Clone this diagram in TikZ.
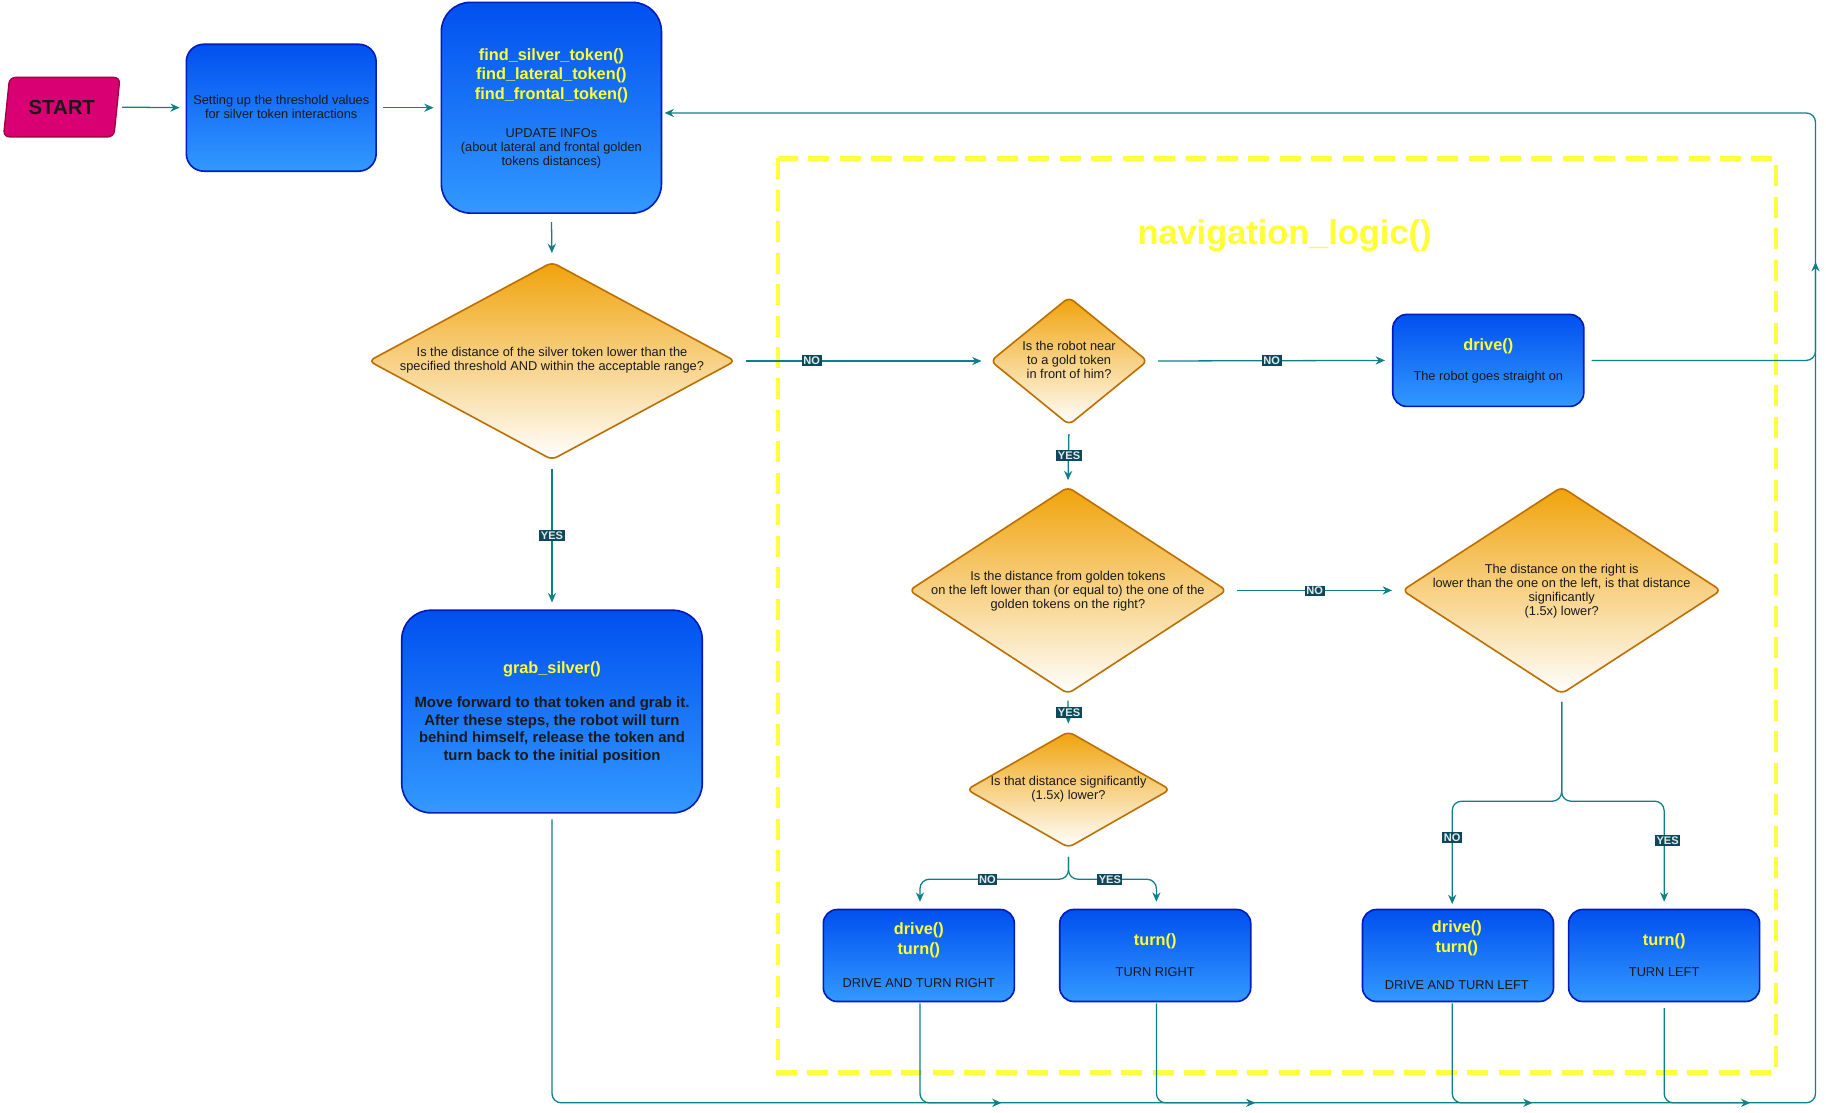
\documentclass[tikz,border=0pt]{standalone}
\usepackage{fontspec}
\setmainfont{Liberation Sans}
\usetikzlibrary{shapes.geometric,arrows.meta}
\definecolor{bluetop}{HTML}{0050EF}
\definecolor{bluebot}{HTML}{3399FF}
\definecolor{blueedge}{HTML}{001DBC}
\definecolor{orgtop}{HTML}{F0A30A}
\definecolor{orgedge}{HTML}{BD7000}
\definecolor{conncol}{HTML}{0E8088}
\definecolor{lblbg}{HTML}{10475A}
\definecolor{lbltxt}{HTML}{D8EEEE}
\definecolor{ylw}{HTML}{FFFF33}
\definecolor{dashy}{HTML}{FFFF40}
\definecolor{txtdark}{HTML}{1A1A1A}
\definecolor{startfill}{HTML}{D80073}
\definecolor{startedge}{HTML}{A50040}
\begin{document}
\begin{tikzpicture}[x=1pt,y=-1pt,
  bluebox/.style={draw=blueedge, line width=1.4pt, top color=bluetop, bottom color=bluebot, inner sep=0pt},
  dia/.style={diamond, draw=orgedge, line width=1.4pt, top color=orgtop, bottom color=white, inner sep=0pt, rounded corners=5pt},
  ttl/.style={font=\bfseries\fontsize{14}{17}\selectfont, text=ylw, align=center, inner sep=0pt},
  body/.style={font=\fontsize{11}{12}\selectfont, text=txtdark, align=center, inner sep=0pt},
  conn/.style={draw=conncol, line width=1.1pt, -{Stealth[length=8pt,width=7pt]}, rounded corners=8pt},
  lbl/.style={fill=lblbg, text=lbltxt, font=\bfseries\fontsize{9.5}{10}\selectfont, inner sep=1.3pt},
]
\useasboundingbox (0,0) rectangle (1568,955);

% dashed frame
\draw[dashy, line width=4pt, dash pattern=on 18pt off 9pt] (668,136) rectangle (1525,921);
\node[font=\bfseries\fontsize{29.5}{34}\selectfont, text=ylw, inner sep=0pt] (title) at (1103,202) {navigation\_logic()};

% nodes
\node[trapezium, trapezium left angle=75, trapezium right angle=105, trapezium stretches=true,
      minimum width=100pt, minimum height=51pt, fill=startfill, draw=startedge, line width=1.2pt,
      rounded corners=5pt, inner sep=0pt, font=\bfseries\fontsize{17.5}{20}\selectfont, text=txtdark] (start) at (53,92) {START};

\node[bluebox, rounded corners=15pt, minimum width=163pt, minimum height=109pt] (setup) at (241.5,92.5) {};
\node[body] (setupt) at (241.5,92) {Setting up the threshold values\\for silver token interactions};

\node[bluebox, rounded corners=25pt, minimum width=189pt, minimum height=181pt] (find) at (473.5,92.5) {};
\node[ttl] (findt) at (473.5,65) {find\_silver\_token()\\find\_lateral\_token()\\find\_frontal\_token()};
\node[body] (findb) at (473.5,127) {UPDATE INFOs\\(about lateral and frontal golden\\tokens distances)};

\node[dia, minimum width=315pt, minimum height=170pt] (d1) at (474,310) {};
\node[body] (d1t) at (474,309.5) {Is the distance of the silver token lower than the\\specified threshold AND within the acceptable range?};

\node[dia, minimum width=135pt, minimum height=110pt] (d2) at (918,310) {};
\node[body] (d2t) at (918,309) {Is the robot near\\to a gold token\\in front of him?};

\node[bluebox, rounded corners=12pt, minimum width=164pt, minimum height=79pt] (drv) at (1278,309.5) {};
\node[ttl] (drvt) at (1278,297) {drive()};
\node[body] (drvb) at (1278,324) {The robot goes straight on};

\node[bluebox, rounded corners=25pt, minimum width=258pt, minimum height=174pt] (grab) at (474,611) {};
\node[ttl] (grabt) at (474,575) {grab\_silver()};
\node[body, font=\bfseries\fontsize{12.8}{15.3}\selectfont] (grabb) at (474,627) {Move forward to that token and grab it.\\After these steps, the robot will turn\\behind himself, release the token and\\turn back to the initial position};

\node[dia, minimum width=273pt, minimum height=178pt] (d3) at (917,507) {};
\node[body] (d3t) at (917,508) {Is the distance from golden tokens\\on the left lower than (or equal to) the one of the\\golden tokens on the right?};

\node[dia, minimum width=274pt, minimum height=178pt] (d4) at (1341,507) {};
\node[body] (d4t) at (1341,508) {The distance on the right is\\lower than the one on the left, is that distance\\significantly\\(1.5x) lower?};

\node[dia, minimum width=175pt, minimum height=100pt] (d5) at (917.5,678) {};
\node[body] (d5t) at (917.5,678) {Is that distance significantly\\(1.5x) lower?};

\node[bluebox, rounded corners=12pt, minimum width=164pt, minimum height=79pt] (ba) at (789,820.5) {};
\node[ttl] (bat) at (789,807.5) {drive()\\turn()};
\node[body] (bab) at (789,844) {DRIVE AND TURN RIGHT};

\node[bluebox, rounded corners=12pt, minimum width=164pt, minimum height=79pt] (bb) at (992,820.5) {};
\node[ttl] (bbt) at (992,808) {turn()};
\node[body] (bbb) at (992,835) {TURN RIGHT};

\node[bluebox, rounded corners=12pt, minimum width=164pt, minimum height=79pt] (bc) at (1252,820.5) {};
\node[ttl] (bct) at (1251,805.5) {drive()\\turn()};
\node[body] (bcb) at (1251,846) {DRIVE AND TURN LEFT};

\node[bluebox, rounded corners=12pt, minimum width=164pt, minimum height=79pt] (bd) at (1429,820.5) {};
\node[ttl] (bdt) at (1429,808) {turn()};
\node[body] (bdb) at (1429,835) {TURN LEFT};

% coordinates
\coordinate (rtop) at (1559,97);
\coordinate (bl) at (474,947);
\coordinate (br) at (1559,947);
\coordinate (rarr) at (1559,225);
\coordinate (s5) at (917.5,755);
\coordinate (s4) at (1341,688);
\coordinate (ea) at (860,947);
\coordinate (eb) at (1078,947);
\coordinate (ec) at (1316,947);
\coordinate (ed) at (1503,947);

% connectors
\draw[conn, shorten >=5pt] ([xshift=4pt]start.east) -- (setup.west);
\draw[conn, shorten <=5pt, shorten >=6pt] (setup.east) -- (find.west);
\draw[conn, shorten <=7pt, shorten >=7pt] (find.south) -- (d1.north);
\draw[conn, shorten <=8pt, shorten >=7pt] (d1.east) -- (d2.west);
\draw[conn, shorten <=8pt, shorten >=6pt] (d2.east) -- (drv.west);
\draw[conn, shorten <=6pt, shorten >=2pt] (drv.east) -| (rtop) -- (find.east |- rtop);
\draw[conn, shorten <=7pt, shorten >=6pt] (d1.south) -- (grab.north);
\draw[conn, shorten <=5pt] (grab.south) -- (bl) -- (br) -- (rarr);
\draw[conn, shorten <=7pt, shorten >=5pt] (d2.south) -- (d3.north);
\draw[conn, shorten <=8pt, shorten >=8pt] (d3.east) -- (d4.west);
\draw[conn, shorten <=5pt, shorten >=6pt] (d3.south) -- (d5.north);
\draw[conn, shorten <=7pt, shorten >=6pt] (d5.south) -- (s5) -| ([xshift=1pt]ba.north);
\draw[conn, shorten <=7pt, shorten >=6pt] (d5.south) -- (s5) -| ([xshift=1pt]bb.north);
\draw[conn, shorten <=6pt, shorten >=4pt] (d4.south) -- (s4) -| ([xshift=-5pt]bc.north);
\draw[conn, shorten <=6pt, shorten >=6pt] (d4.south) -- (s4) -| (bd.north);
\draw[conn, shorten <=1pt] ([xshift=1pt]ba.south) |- (ea);
\draw[conn, shorten <=1pt] ([xshift=1pt]bb.south) |- (eb);
\draw[conn, shorten <=1pt] ([xshift=-5pt]bc.south) |- (ec);
\draw[conn, shorten <=5pt] (bd.south) |- (ed);

% edge labels
\node[lbl] (l1) at (697,309.5) {NO};
\node[lbl] (l2) at (1092,309.5) {NO};
\node[lbl] (l3) at (474,460) {YES};
\node[lbl] (l4) at (918,391) {YES};
\node[lbl] (l5) at (1129,507.5) {NO};
\node[lbl] (l6) at (918,612) {YES};
\node[lbl] (l7) at (848,755) {NO};
\node[lbl] (l8) at (953,755) {YES};
\node[lbl] (l9) at (1247,719) {NO};
\node[lbl] (l10) at (1432,722) {YES};
\end{tikzpicture}
\end{document}
